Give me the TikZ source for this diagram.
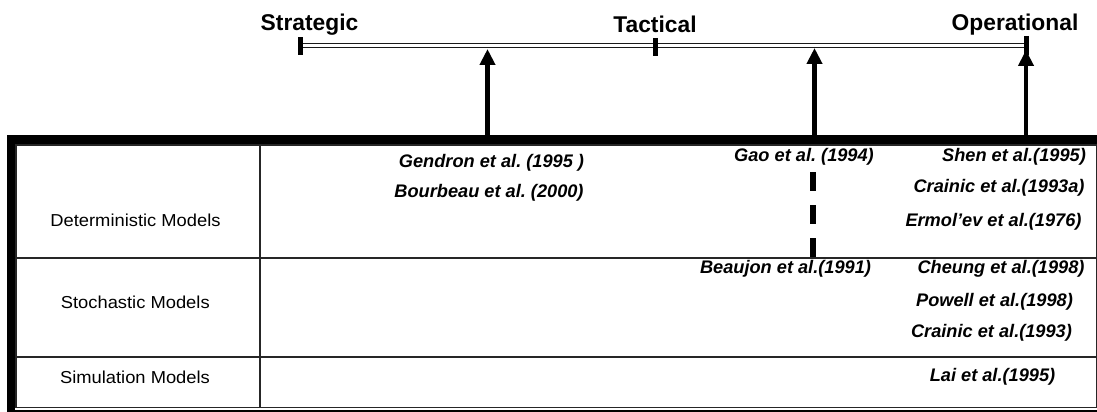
\documentclass[tikz,border=0pt]{standalone}
\usepackage{fontspec}
\setmainfont{Liberation Sans}
\newfontfamily\lblfont[FakeStretch=1.06]{Liberation Sans}
\usetikzlibrary{arrows.meta}
\frenchspacing
\tikzset{
  lvl/.style={font=\bfseries\fontsize{22.8}{26}\selectfont, anchor=base, inner sep=0pt},
  cite/.style={font=\frenchspacing\bfseries\itshape\fontsize{18.2}{21}\selectfont, anchor=center, inner sep=0pt},
  rowlbl/.style={font=\lblfont\fontsize{17.3}{20}\selectfont, anchor=center, inner sep=0pt},
  tick/.style={line width=5pt},
  grid/.style={line width=1.2pt, draw=black!85},
  uparrow/.style={line width=4.5pt, -{Triangle[length=16pt,width=15pt]}},
  dashbar/.style={line width=6.5pt, dash pattern=on 19pt off 14pt}
}
\begin{document}
\begin{tikzpicture}[x=1pt,y=-1pt]
\useasboundingbox (0,0) rectangle (1097,412);

% timeline
\coordinate (ts) at (300.8,45.5);
\coordinate (tt) at (655,45.5);
\coordinate (to) at (1026,45.5);
\draw[double=white, double distance=2.4pt, line width=1.5pt, draw=black!90] (ts) -- (to);
\draw[tick] (300.8,37.5) -- (300.8,55);
\draw[tick] (655,38) -- (655,56);
\draw[tick] (1026,36) -- (1026,55);

\node[lvl] (strat) at (309.5,30.5) {Strategic};
\node[lvl] (tact) at (655,32.5) {Tactical};
\node[lvl] (oper) at (1015,30.5) {Operational};

% table frame
\fill[black] (7,135) rectangle (14.5,412);
\fill[black] (7,135) rectangle (1097,143.5);
\fill[black] (7,409.8) rectangle (1097,412);
\draw[grid] (16,145) rectangle (1096.2,407.5);
\draw[grid] (260,145) -- (260,407.5);
\draw[grid] (16,258) -- (1096.2,258);
\draw[grid] (16,357) -- (1096.2,357);

% arrows
\coordinate (a1s) at (487.5,135);
\coordinate (a1e) at (487.5,49);
\coordinate (a2s) at (814.5,135);
\coordinate (a2e) at (814.5,48);
\coordinate (a3s) at (1026,135);
\coordinate (a3e) at (1026,50);
\draw[uparrow] (a1s) -- (a1e);
\draw[uparrow] (a2s) -- (a2e);
\draw[uparrow] (a3s) -- (a3e);

% dashed bar
\coordinate (d1) at (813,172);
\coordinate (d2) at (813,260);
\draw[dashbar] (d1) -- (d2);

% row labels
\node[rowlbl] (det) at (135.5,220) {Deterministic Models};
\node[rowlbl] (sto) at (135.3,302) {Stochastic Models};
\node[rowlbl] (sim) at (135,377) {Simulation Models};

% citations
\node[cite] (gen) at (491.5,163) {Gendron et al. (1995 )};
\node[cite] (bou) at (489,193) {Bourbeau et al. (2000)};
\node[cite] (gao) at (804,157) {Gao et al. (1994)};
\node[cite] (she) at (1014,157) {Shen et al.(1995)};
\node[cite] (cra) at (999,188) {Crainic et al.(1993a)};
\node[cite] (erm) at (993.5,222) {Ermol'ev et al.(1976)};
\node[cite] (bea) at (785.5,269) {Beaujon et al.(1991)};
\node[cite] (che) at (1001,269) {Cheung et al.(1998)};
\node[cite] (pow) at (994.5,302) {Powell et al.(1998)};
\node[cite] (crb) at (991.5,333) {Crainic et al.(1993)};
\node[cite] (lai) at (992.5,377) {Lai et al.(1995)};
\end{tikzpicture}
\end{document}
